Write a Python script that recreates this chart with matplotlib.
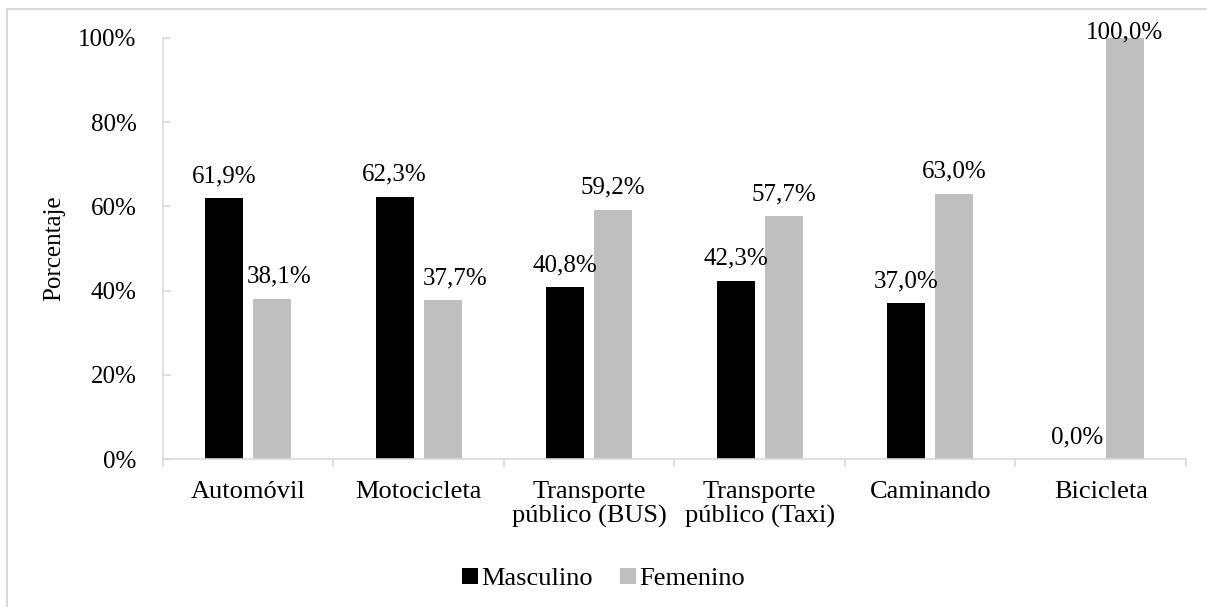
import numpy as np
import matplotlib.pyplot as plt
from matplotlib.lines import Line2D

plt.rcParams['font.family'] = ['Liberation Serif', 'DejaVu Serif']

categorias = ['Automóvil', 'Motocicleta', 'Transporte\npúblico (BUS)',
              'Transporte\npúblico (Taxi)', 'Caminando', 'Bicicleta']
masculino = [61.9, 62.3, 40.8, 42.3, 37.0, 0.0]
femenino = [38.1, 37.7, 59.2, 57.7, 63.0, 100.0]
yticks = [0, 20, 40, 60, 80, 100]

# desplazamiento horizontal (pt) de las etiquetas que chocan con la barra vecina
dx_masc = [0, 0, 0, 0, 0, 0]
dx_fem = [5, 9, 0, 0, 0, 0]

gris_eje = '#d9d9d9'
fs = 18

fig = plt.figure(figsize=(12.07, 6.07), dpi=100)
ax = fig.add_axes([0.135, 0.2438, 0.8476, 0.6936])

x = np.arange(len(categorias))
w = 0.223
d = 0.141
b1 = ax.bar(x - d, masculino, w, color='black', label='Masculino')
b2 = ax.bar(x + d, femenino, w, color='#bfbfbf', label='Femenino')

# etiquetas de datos sobre cada barra (sin salir del área del gráfico)
for barras, vals, dxs in [(b1, masculino, dx_masc), (b2, femenino, dx_fem)]:
    for r, v, dx in zip(barras, vals, dxs):
        off = 11.5 if v < 95 else 0
        ax.annotate(f'{v:.1f}%'.replace('.', ','), (r.get_x() + r.get_width() / 2, v),
                    xytext=(dx, off), textcoords='offset points',
                    ha='center', va='baseline', fontsize=fs)

ax.set_xlim(-0.5, len(categorias) - 0.5)
ax.set_ylim(0, 100)
ax.set_yticks(yticks)
ax.set_yticklabels([f'{t}%' for t in yticks], fontsize=fs)
ax.set_xticks(x)
ax.set_xticklabels(categorias, fontsize=19, linespacing=1.1)
ax.set_xticks(np.arange(len(categorias) + 1) - 0.5, minor=True)
ax.tick_params(axis='x', which='major', length=0, pad=16)
ax.tick_params(axis='x', which='minor', length=6, width=1.2, color=gris_eje, direction='out')
ax.tick_params(axis='y', length=6, width=1.2, color=gris_eje, direction='in', pad=19)
ax.set_ylabel('Porcentaje', fontsize=fs, labelpad=9)

for s in ['top', 'right']:
    ax.spines[s].set_visible(False)
for s in ['left', 'bottom']:
    ax.spines[s].set_color(gris_eje)
    ax.spines[s].set_linewidth(1.2)

fig.legend(handles=[b1, b2], loc='center', bbox_to_anchor=(0.5, 0.046), ncol=2,
           frameon=False, fontsize=19, handlelength=0.6, handleheight=0.6,
           handletextpad=0.12, columnspacing=1.05)

# borde del área del gráfico (solo arriba e izquierda)
x0, y0 = 6.5 / 1207, 1 - 8.5 / 607
fig.add_artist(Line2D([x0, x0], [0, y0], transform=fig.transFigure, color=gris_eje, lw=1.5))
fig.add_artist(Line2D([x0, 1], [y0, y0], transform=fig.transFigure, color=gris_eje, lw=1.5))

fig.savefig('out.png', dpi=100)
